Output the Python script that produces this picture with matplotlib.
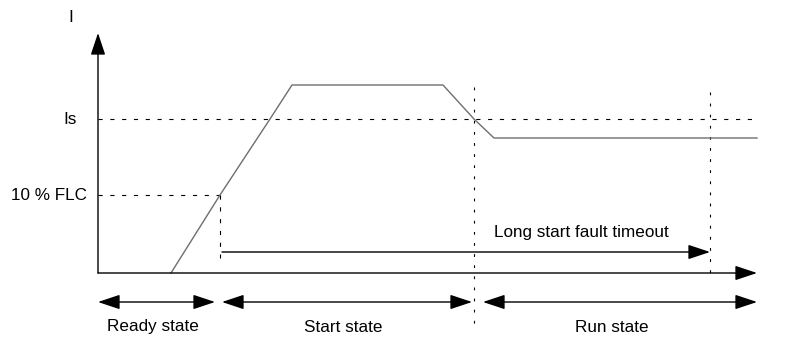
import matplotlib
matplotlib.use("Agg")
import matplotlib.pyplot as plt
from matplotlib.patches import FancyArrowPatch

plt.rcParams["font.family"] = ["Liberation Sans", "DejaVu Sans"]
plt.rcParams["lines.scale_dashes"] = False

# motor current profile (time / current in diagram units, origin at the axes corner)
time_pts = [73, 122, 172, 194, 345, 376, 396, 659]
current_pts = [0, 78, 154, 188, 188, 154, 135, 135]

i_s = 154          # stall / start threshold
i_flc = 78         # 10 % FLC threshold
t_flc = 122        # current passes 10 % FLC
t_run = 376        # current drops below Is
t_timeout = 612    # end of long start fault timeout
t_max = 659
i_max = 240

states = ["Ready state", "Start state", "Run state"]
state_spans = [(0, 117), (124, 374), (385, 659)]
state_label_x = [55, 245, 514]

LINE = "#555555"
CURVE = "#6e6e6e"
FS = 12.3


def arrow(ax, p0, p1, both=False):
    style = "<|-|>" if both else "-|>"
    ax.add_patch(FancyArrowPatch(p0, p1, arrowstyle=f"{style},head_length=1.35,head_width=0.45",
                                 mutation_scale=10, color="black", lw=1, shrinkA=0, shrinkB=0,
                                 zorder=3))


fig = plt.figure(figsize=(7.86, 3.4), dpi=100)
ax = fig.add_axes([0, 0, 1, 1])
ax.set_xlim(-98, 688)
ax.set_ylim(-67, 273)
ax.axis("off")

# axes
arrow(ax, (0, 0), (0, i_max))
arrow(ax, (0, 0), (t_max, 0))

# thresholds
dash = (0, (3, 5.5))
ax.plot([0, t_max], [i_s, i_s], color="black", lw=0.8, linestyle=dash)
ax.plot([0, t_flc], [i_flc, i_flc], color="black", lw=0.8, linestyle=dash)
ax.plot([t_flc, t_flc], [i_flc, 15], color="black", lw=0.8, linestyle=dash)
ax.plot([t_run, t_run], [186, -54], color="black", lw=0.8, linestyle=(0, (2, 6)))
ax.plot([t_timeout, t_timeout], [181, 0], color="black", lw=0.8, linestyle=(0, (2, 6)))

# current curve
ax.plot(time_pts, current_pts, color=CURVE, lw=1)

# long start fault timeout
arrow(ax, (t_flc + 2, 21), (t_timeout, 21))
ax.text(483, 41, "Long start fault timeout", fontsize=FS, ha="center", va="center")

# state arrows
for name, (a, b), lx in zip(states, state_spans, state_label_x):
    arrow(ax, (a, -29), (b, -29), both=True)
    ax.text(lx, -54, name, fontsize=FS, ha="center", va="center")

# axis labels
ax.text(-27, 255, "I", fontsize=FS, ha="center", va="center")
ax.text(-35, i_s, "Is", fontsize=FS, ha="left", va="center")
ax.text(-11, i_flc, "10 % FLC", fontsize=FS, ha="right", va="center")

fig.savefig("out.png", dpi=100)
